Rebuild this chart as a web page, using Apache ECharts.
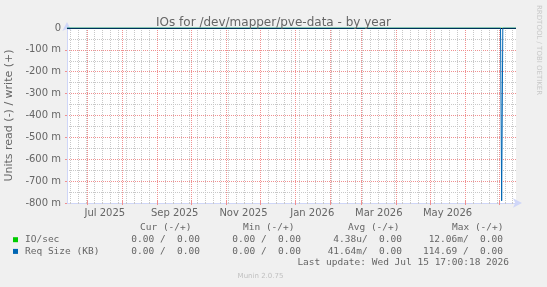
<!DOCTYPE html>
<html><head><meta charset="utf-8">
<script src="https://cdn.jsdelivr.net/npm/echarts@6/dist/echarts.min.js"></script>
<style>html,body{margin:0;padding:0;background:#f0f0f0}#c{width:547px;height:287px}</style>
</head><body><div id="c"></div><script>
// ---- data ----
const titleText = 'IOs for /dev/mapper/pve-data - by year';
const startTime = '2025-06-12T12:00:00Z';
const endTime = '2026-07-15T17:00:18Z';
const monthTicks = ['2025-07-01','2025-08-01','2025-09-01','2025-10-01','2025-11-01','2025-12-01',
  '2026-01-01','2026-02-01','2026-03-01','2026-04-01','2026-05-01','2026-06-01','2026-07-01'];
const firstWeek = '2025-06-16';
const labelDates = ['2025-07-16','2025-09-16','2025-11-16','2026-01-16','2026-03-16','2026-05-16'];
const tickLabels = ['Jul 2025','Sep 2025','Nov 2025','Jan 2026','Mar 2026','May 2026'];
const yMin = -0.8, yMax = 0;
const times = ['2025-06-12T12:00:00Z','2026-07-02T00:00:00Z','2026-07-03T00:00:00Z','2026-07-04T00:00:00Z','2026-07-15T17:00:00Z'];
const reqSizeRead = [0, 0, -0.79, 0, 0];
const ioRead = [0, 0, 0, 0, 0];
const legendHeaders = ['Cur (-/+)','Min (-/+)','Avg (-/+)','Max (-/+)'];
const legendNames = ['IO/sec','Req Size (KB)'];
const legendColors = ['#00CC00','#0066B3'];
const legendRows = [
  ['0.00 /  0.00','0.00 /  0.00','4.38u/  0.00','12.06m/  0.00'],
  ['0.00 /  0.00','0.00 /  0.00','41.64m/  0.00','114.69 /  0.00']
];
const lastUpdate = 'Last update: Wed Jul 15 17:00:18 2026';
const version = 'Munin 2.0.75';
const sideText = 'RRDTOOL / TOBI OETIKER';

// ---- build ----
const T = s => Date.parse(s.length === 10 ? s + 'T00:00:00Z' : s);
const xMin = T(startTime), xMax = T(endTime);
const weekTicks = [];
for (let t = T(firstWeek); t < xMax; t += 7 * 86400000) weekTicks.push(t);
const monthVals = monthTicks.map(T);
const labelVals = labelDates.map(T);

const FONT = '#666666';
const AX = '#CFD6F8';
const GRID = '#c8c8c8';
const MGRID = '#f09090';
const mono = 'DejaVu Sans Mono';

const graphic = [];
graphic.push({type:'text', x:542, y:5, rotation:-Math.PI/2,
  style:{text:sideText, fill:'#c8c8c8', font:'7px "DejaVu Sans"', textVerticalAlign:'top'}});
const hx = [140, 243, 348, 452];
legendHeaders.forEach((h,i)=>graphic.push({type:'text', x:hx[i], y:227.5,
  style:{text:h, fill:FONT, font:'9.5px "'+mono+'"', textVerticalAlign:'middle'}}));
const ends = [200, 301, 402, 503];
legendNames.forEach((n,r)=>{
  const y = 239.7 + r*11.7;
  graphic.push({type:'rect', shape:{x:13, y:y-2.5, width:5, height:5}, style:{fill:legendColors[r]}});
  graphic.push({type:'text', x:25, y:y, style:{text:n, fill:FONT, font:'9.5px "'+mono+'"', textVerticalAlign:'middle'}});
  legendRows[r].forEach((v,i)=>graphic.push({type:'text', x:ends[i], y:y,
    style:{text:v, fill:FONT, font:'9.5px "'+mono+'"', textAlign:'right', textVerticalAlign:'middle'}}));
});
graphic.push({type:'text', x:509, y:263, style:{text:lastUpdate, fill:FONT, font:'9.5px "'+mono+'"', textAlign:'right', textVerticalAlign:'middle'}});
graphic.push({type:'text', x:260.5, y:276.5, style:{text:version, fill:'#c0c0c0', font:'7px "DejaVu Sans"', textAlign:'center', textVerticalAlign:'middle'}});

// vertical grid lines placed through the x scale, snapped to a pixel column
const vLines = (vals, color, z, tick) => ({type:'custom', xAxisIndex:0, yAxisIndex:1, z:z, silent:true,
  clip:false, encode:{x:0, y:1}, data:vals.map(v=>[v, yMin]),
  renderItem:(params, api)=>{
    const top = api.coord([api.value(0), yMax]);
    const bot = api.coord([api.value(0), yMin]);
    const x = Math.floor(top[0]) + 0.5;
    return {type:'group', children:[
      {type:'line', shape:{x1:x, y1:top[1], x2:x, y2:bot[1]}, style:{stroke:color, lineWidth:1, lineDash:[1,1]}},
      {type:'line', shape:{x1:x, y1:bot[1]-tick, x2:x, y2:bot[1]+tick}, style:{stroke:color, lineWidth:1}}
    ]};
  }});

const option = {
  backgroundColor:'#f0f0f0',
  animation:false,
  title:{text:titleText, left:'center', top:12, textStyle:{color:FONT, fontSize:12, fontWeight:'normal', fontFamily:'DejaVu Sans'}},
  grid:{left:67, right:31, top:28, bottom:84, backgroundColor:'#ffffff', show:true, borderWidth:0,
    containLabel:false, outerBoundsMode:'none'},
  xAxis:[
    {type:'value', position:'bottom', min:xMin, max:xMax,
      axisLine:{show:true, onZero:false, lineStyle:{color:AX, width:1}, symbol:['none','arrow'], symbolSize:[7,9], symbolOffset:[0,6]},
      axisTick:{show:false}, splitLine:{show:false},
      axisLabel:{show:true, customValues:labelVals, color:FONT, fontSize:10, fontFamily:'DejaVu Sans', margin:5,
        formatter:v=>{const i = labelVals.indexOf(v); return i>=0 ? tickLabels[i] : '';}}}
  ],
  yAxis:[
    {type:'value', position:'left', min:yMin, max:yMax, interval:0.05, axisLine:{show:false}, axisLabel:{show:false},
      axisTick:{show:false}, splitLine:{show:true, lineStyle:{color:GRID, type:[1,1]}}},
    {type:'value', position:'left', min:yMin, max:yMax, interval:0.1,
      name:'Units read (-) / write (+)', nameLocation:'middle', nameGap:50, nameRotate:90,
      nameTextStyle:{color:FONT, fontSize:11, fontFamily:'DejaVu Sans'},
      axisLine:{show:true, onZero:false, lineStyle:{color:AX}, symbol:['none','arrow'], symbolSize:[7,9], symbolOffset:[0,6]},
      axisTick:{show:true, length:2, lineStyle:{color:MGRID}},
      axisLabel:{color:FONT, fontSize:10, fontFamily:'DejaVu Sans', margin:6,
        formatter:v=>{const m = Math.round(v*1000); return m===0 ? '0' : m + ' m';}},
      splitLine:{show:true, lineStyle:{color:MGRID, type:[1,1]}}}
  ],
  series:[
    vLines(weekTicks, GRID, 1, 1),
    vLines(monthVals, MGRID, 2, 2),
    {name:legendNames[0], type:'line', xAxisIndex:0, yAxisIndex:1, showSymbol:false,
      data:times.map((t,i)=>[T(t), ioRead[i]]), lineStyle:{color:legendColors[0], width:1}, z:3,
      markLine:{silent:true, symbol:['none','none'], label:{show:false},
        lineStyle:{color:'#000000', type:'solid', width:1}, data:[{yAxis:0}]}},
    {name:legendNames[1], type:'line', xAxisIndex:0, yAxisIndex:1, showSymbol:false,
      data:times.map((t,i)=>[T(t), reqSizeRead[i]]), lineStyle:{color:legendColors[1], width:1}, z:5}
  ],
  graphic:graphic
};
const chart = echarts.init(document.getElementById('c'), null, {renderer:'canvas'});
chart.setOption(option);
</script></body></html>
